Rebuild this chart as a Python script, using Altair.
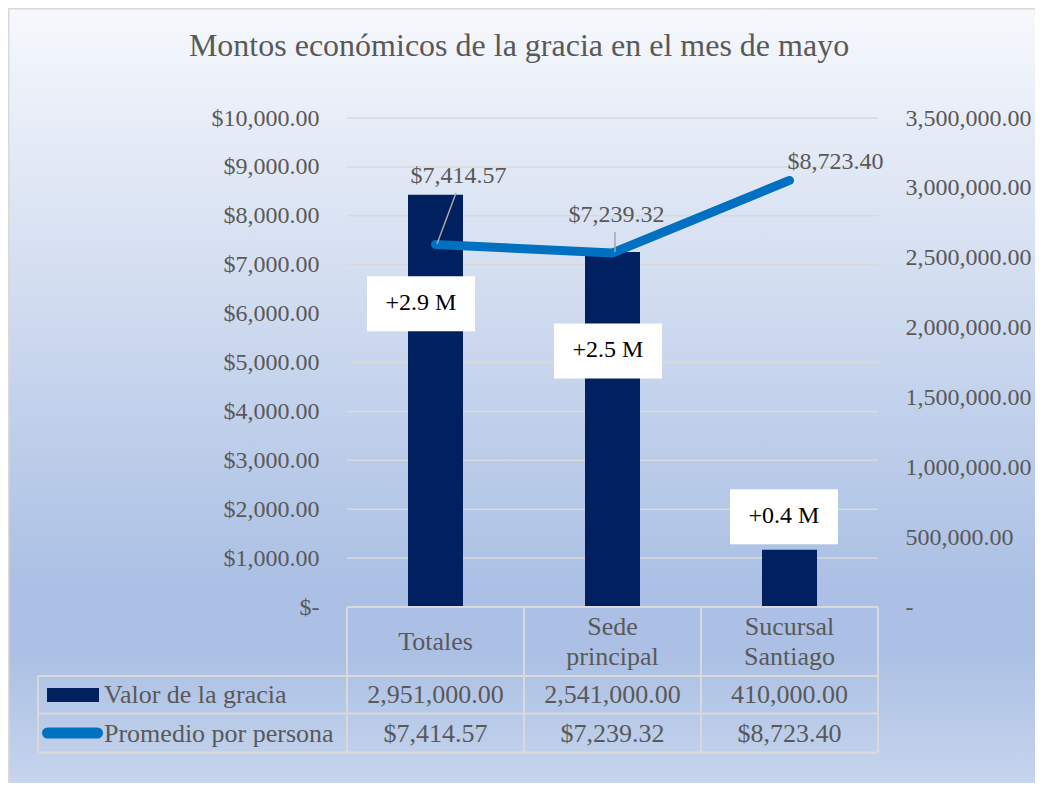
import altair as alt
import pandas as pd

# ---------------- data ----------------
categories = ["Totales", "Sede principal", "Sucursal Santiago"]
valor_gracia = [2951000.00, 2541000.00, 410000.00]
promedio_persona = [7414.57, 7239.32, 8723.40]
series_names = ["Valor de la gracia", "Promedio por persona"]
left_ticks = [0, 1000, 2000, 3000, 4000, 5000, 6000, 7000, 8000, 9000, 10000]
right_ticks = [0, 500000, 1000000, 1500000, 2000000, 2500000, 3000000, 3500000]
title_text = "Montos económicos de la gracia en el mes de mayo"

df = pd.DataFrame({"cat": categories, "valor": valor_gracia, "prom": promedio_persona})
one = pd.DataFrame({"k": [0]})
grid_df = pd.DataFrame({"t": left_ticks})

# ---------------- layout / style ----------------
W, H = 531, 489
PL, PT, PR, PB = 339, 110, 157, 176
FONT = "Liberation Serif"
GRAY = "#595959"
NAVY = "#002060"
BLUE = "#0070C0"
BORDER = "#d9d9d9"

xs = alt.Scale(domain=categories, paddingInner=0, paddingOuter=0)
yl = alt.Scale(domain=[0, 10000], nice=False, zero=True)
yr = alt.Scale(domain=[0, 3500000], nice=False, zero=True)


def X():
    return alt.X("cat:N", scale=xs, axis=None)


def YL(axis=None):
    return alt.Y("prom:Q", scale=yl, axis=axis)


def YR(axis=None):
    return alt.Y("valor:Q", scale=yr, axis=axis)


left_axis = alt.Axis(
    orient="left", values=left_ticks, grid=False, domain=False, ticks=False,
    labelPadding=28, labelFont=FONT, labelFontSize=24, labelColor=GRAY,
    labelExpr="datum.value == 0 ? '$-\u00a0\u00a0' : '$' + format(datum.value, ',.2f')",
    zindex=1, title=None,
)
right_axis = alt.Axis(
    orient="right", values=right_ticks, grid=False, domain=False, ticks=False,
    labelPadding=27, labelFont=FONT, labelFontSize=24, labelColor=GRAY,
    labelExpr="datum.value == 0 ? '-' : format(datum.value, ',.2f')",
    zindex=1, title=None,
)

grad = alt.Gradient(
    gradient="linear",
    stops=[
        alt.GradientStop(color="#f6f8fc", offset=0),
        alt.GradientStop(color="#abc0e4", offset=0.74),
        alt.GradientStop(color="#abc0e4", offset=0.83),
        alt.GradientStop(color="#c7d5ed", offset=1),
    ],
    x1=0, x2=0, y1=0, y2=1,
)

layers = []

# background
layers.append(
    alt.Chart(one).mark_rect(fill=grad, stroke=BORDER, strokeWidth=1.5).encode(
        x=alt.value(-PL + 0.75), x2=alt.value(W + PR + 2),
        y=alt.value(-PT + 0.75), y2=alt.value(H + PB + 2),
    )
)

# gridlines
layers.append(
    alt.Chart(grid_df).mark_rule(color=BORDER, strokeWidth=1.5).encode(
        y=alt.Y("t:Q", scale=yl, axis=None), x=alt.value(0), x2=alt.value(W)
    )
)

# bars (right axis)
layers.append(
    alt.Chart(df).mark_bar(color=NAVY, size=55).encode(x=X(), y=YR(right_axis))
)

# white boxes with "+x.x M" labels
box_off = [(-14.5, 109), (-4.5, 99), (-5.5, -33)]
for i, c in enumerate(categories):
    dx, dy = box_off[i]
    base = alt.Chart(df).transform_filter(alt.datum.cat == c)
    layers.append(
        base.mark_bar(size=108, color="white", xOffset=dx,
                      yOffset=dy - 27.5, y2Offset=dy + 27.5).encode(
            x=X(), y=YR(), y2=alt.Y2("valor")
        )
    )
    layers.append(
        base.transform_calculate(
            lab="'+' + format(floor(datum.valor / 100000) / 10, '.1f') + ' M'"
        ).mark_text(font=FONT, fontSize=24, color="#000000", dx=dx, dy=dy - 1,
                    baseline="middle", align="center").encode(
            x=X(), y=YR(), text="lab:N"
        )
    )

# line (left axis)
layers.append(
    alt.Chart(df).mark_line(color=BLUE, strokeWidth=9, strokeCap="round",
                            strokeJoin="round").encode(x=X(), y=YL(left_axis))
)

# leader lines for line labels
leaders = {0: ("M0,0L19,-51", 1.5, -0.4), 1: ("M0,0L0,-20", 2.5, -1)}
for i, (path, ox, oy) in leaders.items():
    layers.append(
        alt.Chart(df).transform_filter(alt.datum.cat == categories[i]).mark_point(
            shape=path, size=4, filled=False, stroke="#a6a6a6", strokeWidth=1.5,
            opacity=1, xOffset=ox, yOffset=oy,
        ).encode(x=X(), y=YL())
    )

# line data labels
label_off = [(23, -68), (4, -38), (46, -18)]
for i, c in enumerate(categories):
    dx, dy = label_off[i]
    layers.append(
        alt.Chart(df).transform_filter(alt.datum.cat == c).mark_text(
            font=FONT, fontSize=24, color=GRAY, dx=dx, dy=dy,
            baseline="middle", align="center",
        ).encode(x=X(), y=YL(), text=alt.Text("prom:Q", format="$,.2f"))
    )

# ---------------- data table ----------------
T0, T1, T2, T3 = H, 558, 595.5, 634.5
XL = -309
hlines = [(0, W, T0), (XL, W, T1), (XL, W, T2), (XL, W, T3)]
for x1, x2, yy in hlines:
    layers.append(
        alt.Chart(one).mark_rule(color=BORDER, strokeWidth=2).encode(
            x=alt.value(x1), x2=alt.value(x2), y=alt.value(yy)
        )
    )
vlines = [(XL, T1), (0, T0), (W / 3, T0), (2 * W / 3, T0), (W, T0)]
for xx, ytop in vlines:
    layers.append(
        alt.Chart(one).mark_rule(color=BORDER, strokeWidth=2).encode(
            x=alt.value(xx), y=alt.value(ytop), y2=alt.value(T3)
        )
    )

# header (category names, wrapped at the space)
header = alt.Chart(df).transform_calculate(
    lines="split(datum.cat, ' ')", n="length(split(datum.cat, ' '))"
)
for n_lines, yy in [(1, 524), (2, 509)]:
    layers.append(
        header.transform_filter(alt.datum.n == n_lines).mark_text(
            font=FONT, fontSize=26, color=GRAY, lineHeight=30,
            baseline="middle", align="center",
        ).encode(x=X(), y=alt.value(yy), text="lines:N")
    )
# row values
layers.append(
    alt.Chart(df).mark_text(font=FONT, fontSize=26, color=GRAY, baseline="middle",
                            align="center").encode(
        x=X(), y=alt.value(577), text=alt.Text("valor:Q", format=",.2f")
    )
)
layers.append(
    alt.Chart(df).mark_text(font=FONT, fontSize=26, color=GRAY, baseline="middle",
                            align="center").encode(
        x=X(), y=alt.value(615.5), text=alt.Text("prom:Q", format="$,.2f")
    )
)
# legend keys + series names
layers.append(
    alt.Chart(one).mark_rect(color=NAVY).encode(
        x=alt.value(-300), x2=alt.value(-248), y=alt.value(570), y2=alt.value(584)
    )
)
layers.append(
    alt.Chart(one).mark_rule(color=BLUE, strokeWidth=11, strokeCap="round").encode(
        x=alt.value(-299.5), x2=alt.value(-249.5), y=alt.value(615)
    )
)
for name, yy in zip(series_names, [577, 615.5]):
    layers.append(
        alt.Chart(one).mark_text(text=name, font=FONT, fontSize=26, color=GRAY,
                                 align="left", baseline="middle").encode(
            x=alt.value(-243), y=alt.value(yy)
        )
    )

# title
layers.append(
    alt.Chart(one).mark_text(text=title_text, font=FONT, fontSize=32, color=GRAY,
                             align="center", baseline="middle").encode(
        x=alt.value(172), y=alt.value(-72)
    )
)

chart = (
    alt.layer(*layers)
    .resolve_scale(y="independent")
    .properties(
        width=W, height=H,
        padding={"left": PL, "top": PT, "right": PR, "bottom": PB},
        autosize=alt.AutoSizeParams(type="none"),
    )
    .configure_view(strokeWidth=0)
)

chart.save("out.html", embed_options={"renderer": "svg", "actions": False})
